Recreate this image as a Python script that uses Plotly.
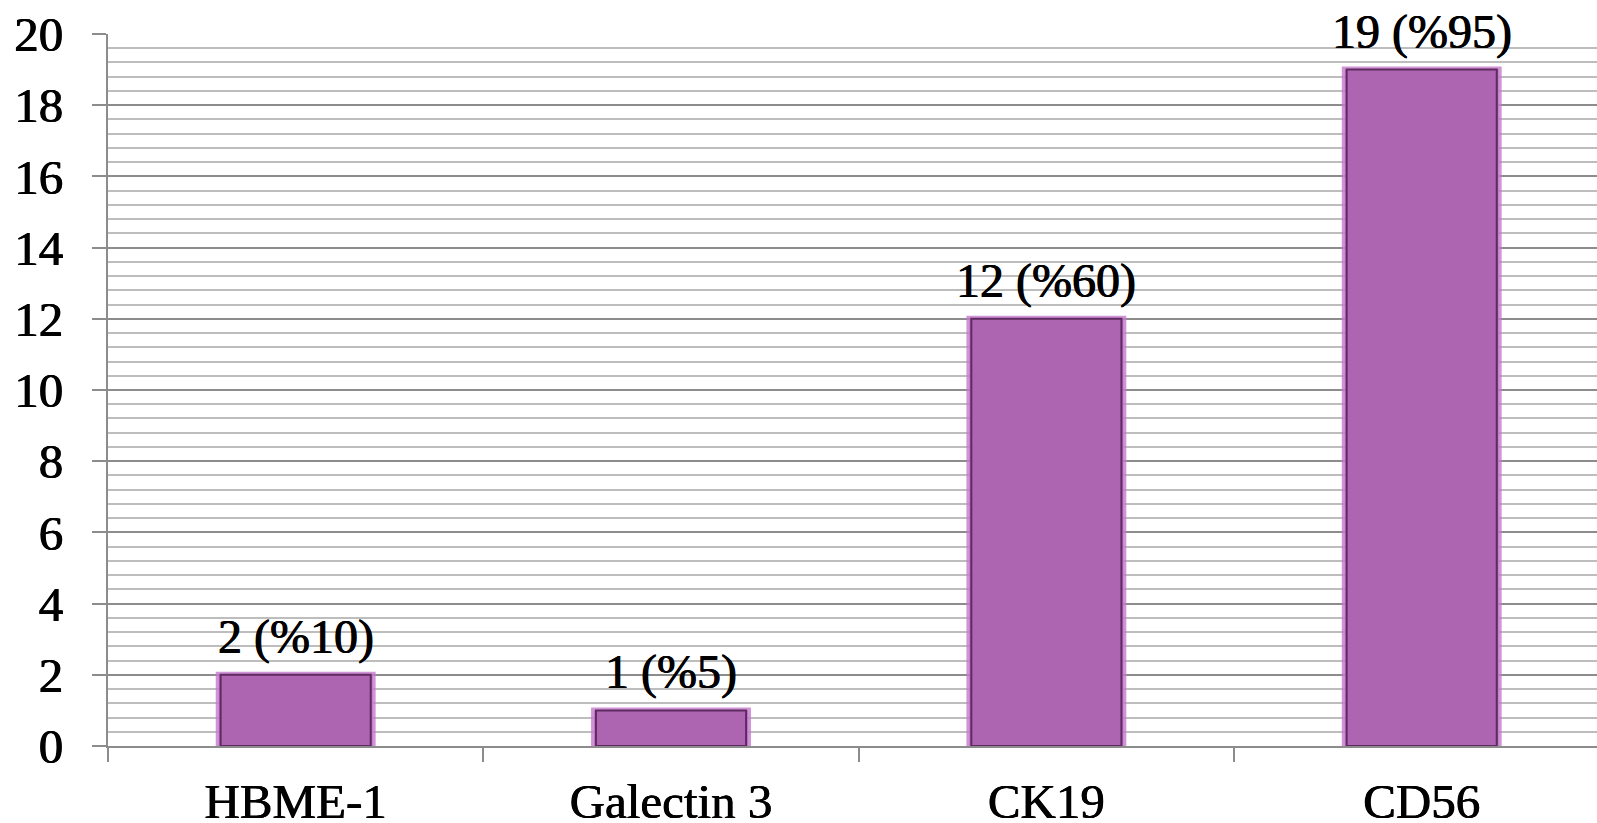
import plotly.graph_objects as go

categories = ["HBME-1", "Galectin 3", "CK19", "CD56"]
counts = [2, 1, 12, 19]
percents = [10, 5, 60, 95]
y_ticks = [0, 2, 4, 6, 8, 10, 12, 14, 16, 18, 20]

labels = [f"{c} (%{p})" for c, p in zip(counts, percents)]
FONT = "Liberation Serif"
THICK = "0.45px 0 0 #000, -0.45px 0 0 #000"

fig = go.Figure()
# soft glow behind bars
fig.add_trace(go.Bar(
    x=categories, y=counts, width=0.41,
    marker=dict(color="#b56cba", line=dict(color="rgba(196,120,204,0.8)", width=6)),
    hoverinfo="skip", showlegend=False,
))
# main bars
fig.add_trace(go.Bar(
    x=categories, y=counts, width=0.40,
    marker=dict(color="#ad64b1", line=dict(color="#5e2a60", width=2)),
    showlegend=False,
))

for c, v, t in zip(categories, counts, labels):
    fig.add_annotation(x=c, y=v, text=t, showarrow=False, yanchor="bottom",
                       yshift=9, font=dict(family=FONT, size=48, color="#000", shadow=THICK))

fig.update_layout(
    width=1597, height=823,
    margin=dict(l=108, r=0, t=34, b=77, autoexpand=False),
    paper_bgcolor="white", plot_bgcolor="white",
    barmode="overlay",
    font=dict(family=FONT, size=47, color="#000"),
)
fig.update_xaxes(
    type="category", range=[-0.5, 3.467], automargin=False,
    showline=True, linecolor="#8c8c8c", linewidth=2,
    ticks="outside", tickson="boundaries", ticklen=14, tickcolor="#8c8c8c", tickwidth=2,
    showgrid=False, tickfont=dict(family=FONT, size=49, color="#000", shadow=THICK),
    ticklabelstandoff=11,
)
fig.update_yaxes(
    range=[0, 20], tickvals=y_ticks, automargin=False,
    showline=True, linecolor="#8c8c8c", linewidth=2,
    ticks="outside", ticklen=14, tickcolor="#8c8c8c", tickwidth=2,
    showgrid=True, gridcolor="#8c8c8c", gridwidth=2,
    minor=dict(dtick=0.4, showgrid=True, gridcolor="#bdbdbd", gridwidth=1.5),
    zeroline=False,
    tickfont=dict(family=FONT, size=49, color="#000", shadow=THICK),
    ticklabelstandoff=19,
)

fig.write_html("out.html", config={"displayModeBar": False},
               post_script="document.body.style.margin='0';document.body.style.overflow='hidden';")
